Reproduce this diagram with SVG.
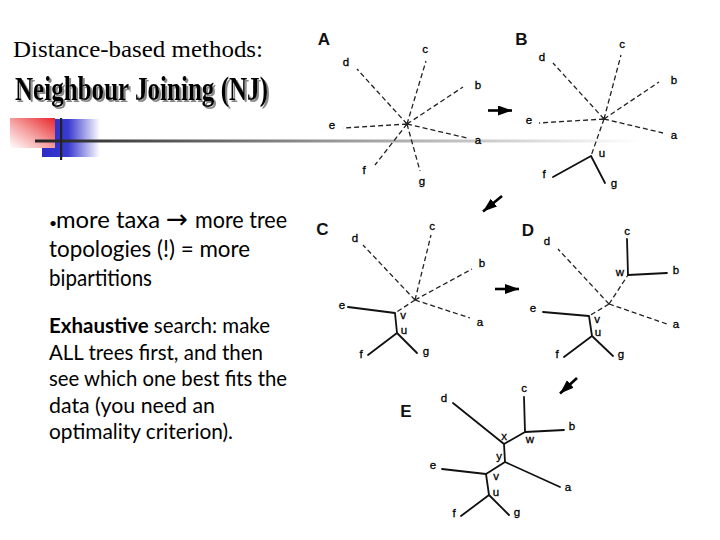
<svg xmlns="http://www.w3.org/2000/svg" width="720" height="540" viewBox="0 0 720 540">
<style>
.dash{stroke:#222;stroke-width:1.3;stroke-dasharray:5 3;fill:none}
.sol{stroke:#111;stroke-width:1.8;fill:none;stroke-linecap:round}
.lb{font-family:"Liberation Sans",Arial,sans-serif;font-size:11.5px;fill:#000;stroke:#000;stroke-width:0.3;text-anchor:middle}
.pl{font-family:"Liberation Sans",Arial,sans-serif;font-size:17px;font-weight:bold;fill:#111;text-anchor:middle}
.body{font-family:Lato,"Open Sans",sans-serif;fill:#000}
.arr{stroke:#000;stroke-width:2.6;fill:none;marker-end:url(#ah)}
</style>
<defs>
<linearGradient id="gl" x1="35" y1="0" x2="640" y2="0" gradientUnits="userSpaceOnUse">
<stop offset="0" stop-color="#222"/><stop offset="0.5" stop-color="#999"/><stop offset="1" stop-color="#fff"/>
</linearGradient>
<linearGradient id="gr" x1="1" y1="0" x2="0" y2="1">
<stop offset="0" stop-color="#e8262b"/><stop offset="0.5" stop-color="#f59a9a"/><stop offset="1" stop-color="#fff"/>
</linearGradient>
<linearGradient id="gb" x1="0" y1="0" x2="1" y2="0">
<stop offset="0" stop-color="#2b2bc8"/><stop offset="0.45" stop-color="#3a3ad0"/><stop offset="1" stop-color="#fff"/>
</linearGradient>
<filter id="sh" x="-5%" y="-20%" width="115%" height="150%">
<feDropShadow dx="2" dy="2" stdDeviation="0.6" flood-color="#888" flood-opacity="1"/>
</filter>
<marker id="ah" markerUnits="userSpaceOnUse" markerWidth="16" markerHeight="12" refX="14" refY="5" orient="auto">
<path d="M0,0 L14,5 L0,10 Z" fill="#000"/>
</marker>
</defs>
<rect width="720" height="540" fill="#fff"/>

<g id="title">
<text x="13" y="57" font-family="Liberation Serif,serif" font-size="24" textLength="250" lengthAdjust="spacingAndGlyphs" fill="#000">Distance-based methods:</text>
<text x="15" y="100" font-family="Liberation Serif,serif" font-size="33" font-weight="bold" textLength="253" lengthAdjust="spacingAndGlyphs" fill="#000" filter="url(#sh)">Neighbour Joining (NJ)</text>
</g>

<g id="decoration">
<rect x="42" y="119" width="58" height="38" fill="url(#gb)"/>
<rect x="10" y="118" width="45" height="30" fill="url(#gr)"/>
<rect x="35" y="139.5" width="605" height="3" fill="url(#gl)"/>
<rect x="60" y="118" width="2.2" height="42" fill="#222"/>
</g>

<g id="text1" class="body" font-size="24">
<text x="49" y="228" font-size="14">•</text>
<text x="56" y="228" textLength="104" lengthAdjust="spacingAndGlyphs">more taxa</text>
<text x="166" y="228" font-family="DejaVu Sans,sans-serif" font-size="26" textLength="22" lengthAdjust="spacingAndGlyphs">→</text>
<text x="195" y="228" textLength="92" lengthAdjust="spacingAndGlyphs">more tree</text>
<text x="49" y="257" textLength="201" lengthAdjust="spacingAndGlyphs">topologies (!) = more</text>
<text x="49" y="286" textLength="103" lengthAdjust="spacingAndGlyphs">bipartitions</text>
</g>

<g id="text2" class="body" font-size="21">
<text x="49" y="333" textLength="221" lengthAdjust="spacingAndGlyphs"><tspan font-weight="bold">Exhaustive</tspan> search: make</text>
<text x="49" y="359.5" textLength="214" lengthAdjust="spacingAndGlyphs">ALL trees first, and then</text>
<text x="49" y="386" textLength="238" lengthAdjust="spacingAndGlyphs">see which one best fits the</text>
<text x="49" y="412.5" textLength="166" lengthAdjust="spacingAndGlyphs">data (you need an</text>
<text x="49" y="439" textLength="184" lengthAdjust="spacingAndGlyphs">optimality criterion).</text>
</g>

<g id="treeA">
<text class="pl" x="324" y="45">A</text>
<path class="dash" d="M407,124 L426,61 M407,124 L357,69 M407,124 L463,87 M407,124 L343,128 M407,124 L467,138 M407,124 L375,165 M407,124 L420,171"/>
<text class="lb" x="425" y="53">c</text>
<text class="lb" x="346" y="66">d</text>
<text class="lb" x="478" y="89">b</text>
<text class="lb" x="332" y="129">e</text>
<text class="lb" x="478" y="144">a</text>
<text class="lb" x="364" y="174">f</text>
<text class="lb" x="422" y="185">g</text>
</g>

<g id="treeB">
<text class="pl" x="521.5" y="45">B</text>
<path class="dash" d="M604,119 L621,55 M604,119 L553,63 M604,119 L659,82 M604,119 L539,123 M604,119 L663,133 M604,119 L591,156"/>
<path class="sol" d="M591,156 L553,177 M591,156 L605,183"/>
<text class="lb" x="622" y="48">c</text>
<text class="lb" x="542" y="61">d</text>
<text class="lb" x="674" y="84">b</text>
<text class="lb" x="529" y="124">e</text>
<text class="lb" x="674" y="139">a</text>
<text class="lb" x="602" y="157">u</text>
<text class="lb" x="544" y="178">f</text>
<text class="lb" x="614" y="187">g</text>
</g>

<g id="treeC">
<text class="pl" x="322.5" y="234.5">C</text>
<path class="dash" d="M415,300 L431,235 M415,300 L363,245 M415,300 L472,269 M415,300 L470,318 M415,300 L395,313"/>
<path class="sol" d="M395,313 L348,307 M395,313 L397,333 M397,333 L368,355 M397,333 L417,353"/>
<text class="lb" x="432" y="230">c</text>
<text class="lb" x="355" y="242">d</text>
<text class="lb" x="482" y="267">b</text>
<text class="lb" x="480" y="326">a</text>
<text class="lb" x="342" y="309">e</text>
<text class="lb" x="403" y="319">v</text>
<text class="lb" x="404" y="334">u</text>
<text class="lb" x="361" y="358">f</text>
<text class="lb" x="426" y="355">g</text>
</g>

<g id="treeD">
<text class="pl" x="528" y="236">D</text>
<path class="dash" d="M609,304 L558,249 M609,304 L628,275 M609,304 L667,324 M609,304 L589,316"/>
<path class="sol" d="M628,275 L627,239 M628,275 L667,273 M589,316 L543,312 M589,316 L592,336 M592,336 L564,357 M592,336 L613,356"/>
<text class="lb" x="547" y="245">d</text>
<text class="lb" x="627" y="235">c</text>
<text class="lb" x="620" y="276">w</text>
<text class="lb" x="676" y="274">b</text>
<text class="lb" x="676" y="328">a</text>
<text class="lb" x="533" y="312">e</text>
<text class="lb" x="597" y="323">v</text>
<text class="lb" x="598" y="336">u</text>
<text class="lb" x="557" y="358">f</text>
<text class="lb" x="621" y="358">g</text>
</g>

<g id="treeE">
<text class="pl" x="406" y="417">E</text>
<path class="sol" d="M504,444 L453,403 M504,444 L525,432 M525,432 L524,397 M525,432 L564,430 M504,444 L505,462 M505,462 L560,487 M505,462 L486,474 M486,474 L442,469 M486,474 L489,495 M489,495 L461,516 M489,495 L509,515"/>
<text class="lb" x="444" y="402">d</text>
<text class="lb" x="524" y="392">c</text>
<text class="lb" x="504" y="440">x</text>
<text class="lb" x="530" y="443">w</text>
<text class="lb" x="572" y="430">b</text>
<text class="lb" x="499" y="460">y</text>
<text class="lb" x="568" y="491">a</text>
<text class="lb" x="433" y="469">e</text>
<text class="lb" x="496" y="480">v</text>
<text class="lb" x="496" y="496">u</text>
<text class="lb" x="454" y="517">f</text>
<text class="lb" x="517" y="516">g</text>
</g>

<g id="connectors">
<path class="arr" d="M488,110.5 L512,110.5"/>
<path class="arr" d="M502,196 L483,211.5"/>
<path class="arr" d="M495,289 L519,289"/>
<path class="arr" d="M577,378 L560,393.5"/>
</g>
</svg>
